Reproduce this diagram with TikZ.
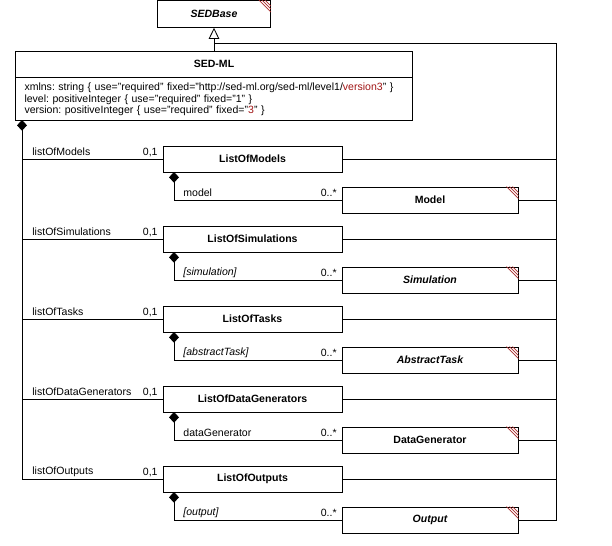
\documentclass[tikz,border=0pt]{standalone}
\usepackage{fontspec}
\setmainfont{Liberation Sans}
\usetikzlibrary{arrows.meta}
\definecolor{hatchred}{RGB}{170,45,45}
\definecolor{fixedred}{RGB}{160,20,20}
\frenchspacing
\begin{document}
\begin{tikzpicture}[x=0.75pt,y=-0.75pt,line width=0.6pt,
    every node/.style={font=\fontsize{7.9}{8.6}\selectfont,inner sep=0pt},
    classbox/.style={draw,fill=white,font=\fontsize{7.9}{8.6}\selectfont\bfseries},
    listbox/.style={classbox,minimum width=134.25pt,minimum height=19.5pt},
    elembox/.style={classbox,minimum width=132pt,minimum height=19.5pt},
    abstractname/.style={font=\fontsize{7.9}{8.6}\selectfont\bfseries\itshape},
    rolename/.style={anchor=west},
    italicrole/.style={anchor=west,font=\fontsize{7.9}{8.6}\selectfont\itshape},
    multname/.style={anchor=east},
    comp/.style={{Diamond[length=8pt,width=7.5pt]}-},
    gen/.style={-{Triangle[open,length=8.25pt,width=8pt]}},
    hatchline/.style={draw=hatchred,line width=0.5pt}]
  \useasboundingbox (0,0) rectangle (612,546);

  % classes
  \node[classbox,abstractname,minimum width=84.75pt,minimum height=20.25pt] (sedbase) at (214,14) {SEDBase};
  \node[classbox,minimum width=297.75pt,minimum height=19.5pt] (sedml) at (214,64) {SED-ML};
  \node[draw,anchor=north,minimum height=32.25pt,text width=284.25pt,inner xsep=6.75pt,inner ysep=0pt,align=left] (sedattr) at (sedml.south)
    {xmlns: string \{ use="required" fixed="http://sed-ml.org/sed-ml/level1/\textcolor{fixedred}{version3}" \}\\
     level: positiveInteger \{ use="required" fixed="1" \}\\
     version: positiveInteger \{ use="required" fixed="\textcolor{fixedred}{3}" \}};

  \node[listbox] (lom) at (252.5,159) {ListOfModels};
  \node[listbox] (los) at (252.5,239) {ListOfSimulations};
  \node[listbox] (lot) at (252.5,319) {ListOfTasks};
  \node[listbox] (lodg) at (252.5,399) {ListOfDataGenerators};
  \node[listbox] (loo) at (252.5,479) {ListOfOutputs};

  \node[elembox] (model) at (430,200) {Model};
  \node[elembox,abstractname] (sim) at (430,280) {Simulation};
  \node[elembox,abstractname] (task) at (430,360) {AbstractTask};
  \node[elembox] (dg) at (430,440) {DataGenerator};
  \node[elembox,abstractname] (out) at (430,520) {Output};

  % hatched corners
  \draw[hatchline] ([xshift=-9pt]sedbase.north east) -- ([yshift=-9pt]sedbase.north east)
    ([xshift=-6.75pt]sedbase.north east) -- ([yshift=-6.75pt]sedbase.north east)
    ([xshift=-4.5pt]sedbase.north east) -- ([yshift=-4.5pt]sedbase.north east);
  \draw[hatchline] ([xshift=-9pt]model.north east) -- ([yshift=-9pt]model.north east)
    ([xshift=-6.75pt]model.north east) -- ([yshift=-6.75pt]model.north east)
    ([xshift=-4.5pt]model.north east) -- ([yshift=-4.5pt]model.north east);
  \draw[hatchline] ([xshift=-9pt]sim.north east) -- ([yshift=-9pt]sim.north east)
    ([xshift=-6.75pt]sim.north east) -- ([yshift=-6.75pt]sim.north east)
    ([xshift=-4.5pt]sim.north east) -- ([yshift=-4.5pt]sim.north east);
  \draw[hatchline] ([xshift=-9pt]task.north east) -- ([yshift=-9pt]task.north east)
    ([xshift=-6.75pt]task.north east) -- ([yshift=-6.75pt]task.north east)
    ([xshift=-4.5pt]task.north east) -- ([yshift=-4.5pt]task.north east);
  \draw[hatchline] ([xshift=-9pt]dg.north east) -- ([yshift=-9pt]dg.north east)
    ([xshift=-6.75pt]dg.north east) -- ([yshift=-6.75pt]dg.north east)
    ([xshift=-4.5pt]dg.north east) -- ([yshift=-4.5pt]dg.north east);
  \draw[hatchline] ([xshift=-9pt]out.north east) -- ([yshift=-9pt]out.north east)
    ([xshift=-6.75pt]out.north east) -- ([yshift=-6.75pt]out.north east)
    ([xshift=-4.5pt]out.north east) -- ([yshift=-4.5pt]out.north east);

  % generalization
  \coordinate (genjoint) at (214,43);
  \coordinate (rbot) at (556,520);
  \draw[gen] (sedml.north) -- (sedbase.south);
  \draw (genjoint) -| (rbot) -- (out.east);
  \draw (lom.east) -- (lom.east -| rbot);
  \draw (model.east) -- (model.east -| rbot);
  \draw (los.east) -- (los.east -| rbot);
  \draw (sim.east) -- (sim.east -| rbot);
  \draw (lot.east) -- (lot.east -| rbot);
  \draw (task.east) -- (task.east -| rbot);
  \draw (lodg.east) -- (lodg.east -| rbot);
  \draw (dg.east) -- (dg.east -| rbot);
  \draw (loo.east) -- (loo.east -| rbot);

  % composition of SED-ML
  \coordinate (trunk) at (22,120);
  \draw[comp] (trunk) |- (loo.west);
  \draw (trunk) |- (lom.west);
  \draw (trunk) |- (los.west);
  \draw (trunk) |- (lot.west);
  \draw (trunk) |- (lodg.west);

  \node[rolename] (lomrole) at (32,152) {listOfModels};
  \node[rolename] (losrole) at (32,232) {listOfSimulations};
  \node[rolename] (lotrole) at (32,312) {listOfTasks};
  \node[rolename] (lodgrole) at (32,392) {listOfDataGenerators};
  \node[rolename] (loorole) at (32,472) {listOfOutputs};
  \node[multname] (lommult) at (158,152) {0,1};
  \node[multname] (losmult) at (158,232) {0,1};
  \node[multname] (lotmult) at (158,312) {0,1};
  \node[multname] (lodgmult) at (158,392) {0,1};
  \node[multname] (loomult) at (158,472) {0,1};

  % composition of the lists
  \coordinate (lomc) at (174,172);
  \coordinate (losc) at (174,252);
  \coordinate (lotc) at (174,332);
  \coordinate (lodgc) at (174,412);
  \coordinate (looc) at (174,492);
  \draw[comp] (lomc) |- (model.west);
  \draw[comp] (losc) |- (sim.west);
  \draw[comp] (lotc) |- (task.west);
  \draw[comp] (lodgc) |- (dg.west);
  \draw[comp] (looc) |- (out.west);

  \node[rolename] (modelrole) at (183,193) {model};
  \node[italicrole] (simrole) at (183,273) {[simulation]};
  \node[italicrole] (taskrole) at (183,353) {[abstractTask]};
  \node[rolename] (dgrole) at (183,433) {dataGenerator};
  \node[italicrole] (outrole) at (183,513) {[output]};
  \node[multname] (modelmult) at (337,193) {0..*};
  \node[multname] (simmult) at (337,273) {0..*};
  \node[multname] (taskmult) at (337,353) {0..*};
  \node[multname] (dgmult) at (337,433) {0..*};
  \node[multname] (outmult) at (337,513) {0..*};
\end{tikzpicture}
\end{document}
